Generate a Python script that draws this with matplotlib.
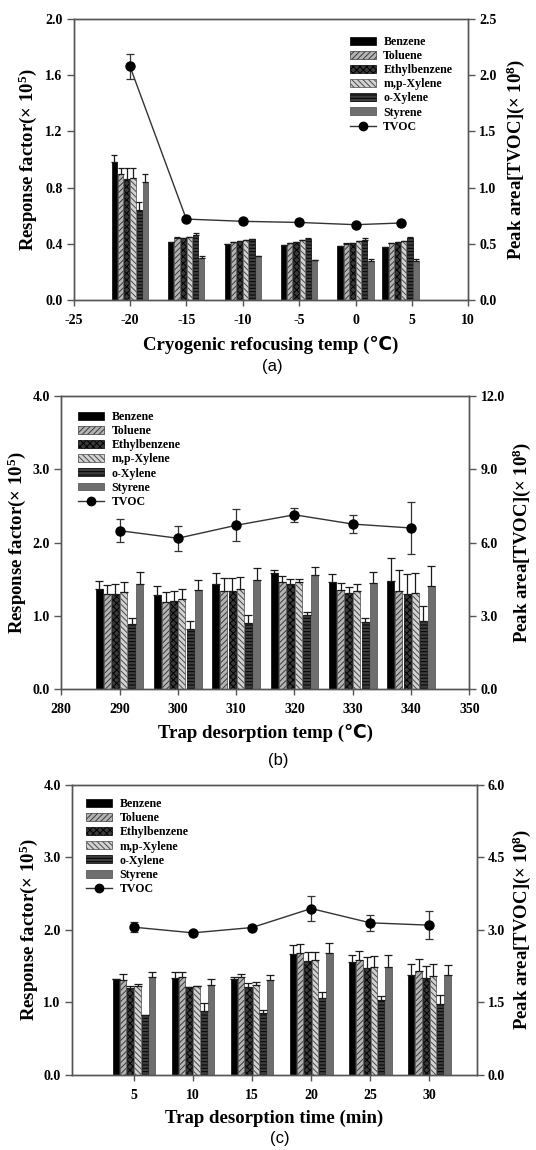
import matplotlib
matplotlib.use('Agg')
import matplotlib.pyplot as plt
import numpy as np
from matplotlib.lines import Line2D
from matplotlib.patches import Patch

plt.rcParams['font.family'] = ['Liberation Serif', 'DejaVu Sans']
plt.rcParams['font.weight'] = 'bold'
plt.rcParams['axes.labelweight'] = 'bold'
plt.rcParams['mathtext.fontset'] = 'custom'
plt.rcParams['mathtext.rm'] = 'Liberation Serif:bold'
plt.rcParams['mathtext.bf'] = 'Liberation Serif:bold'
plt.rcParams['mathtext.it'] = 'Liberation Serif:bold'
plt.rcParams['mathtext.default'] = 'bf'
plt.rcParams['hatch.linewidth'] = 0.7

compounds = ['Benzene', 'Toluene', 'Ethylbenzene', 'm,p-Xylene', 'o-Xylene', 'Styrene']

# ---- panel (a): cryogenic refocusing temperature ----
a_x = [-20, -15, -10, -5, 0, 4]
a_rf = [
    [0.980, 0.415, 0.399, 0.391, 0.382, 0.375],   # Benzene
    [0.897, 0.439, 0.415, 0.408, 0.399, 0.403],   # Toluene
    [0.861, 0.439, 0.420, 0.413, 0.408, 0.413],   # Ethylbenzene
    [0.868, 0.446, 0.429, 0.425, 0.420, 0.420],   # m,p-Xylene
    [0.643, 0.463, 0.434, 0.434, 0.429, 0.441],   # o-Xylene
    [0.840, 0.301, 0.311, 0.287, 0.280, 0.278],   # Styrene
]
a_rf_err = [
    [0.054, 0.000, 0.000, 0.000, 0.000, 0.000],
    [0.040, 0.007, 0.000, 0.000, 0.009, 0.000],
    [0.076, 0.000, 0.000, 0.000, 0.000, 0.000],
    [0.070, 0.000, 0.000, 0.000, 0.000, 0.000],
    [0.057, 0.016, 0.000, 0.009, 0.010, 0.009],
    [0.054, 0.014, 0.000, 0.000, 0.010, 0.012],
]
a_tvoc = [2.08, 0.72, 0.70, 0.69, 0.67, 0.685]
a_tvoc_err = [0.11, 0.0, 0.0, 0.0, 0.0, 0.0]

# ---- panel (b): trap desorption temperature ----
b_x = [290, 300, 310, 320, 330, 340]
b_rf = [
    [1.368, 1.291, 1.432, 1.591, 1.459, 1.477],
    [1.300, 1.195, 1.345, 1.468, 1.350, 1.336],
    [1.300, 1.200, 1.345, 1.441, 1.318, 1.300],
    [1.327, 1.232, 1.364, 1.464, 1.336, 1.314],
    [0.891, 0.827, 0.905, 1.018, 0.918, 0.927],
    [1.441, 1.350, 1.491, 1.555, 1.450, 1.405],
]
b_rf_err = [
    [0.109, 0.114, 0.159, 0.032, 0.114, 0.309],
    [0.127, 0.132, 0.178, 0.073, 0.095, 0.296],
    [0.136, 0.141, 0.178, 0.059, 0.082, 0.277],
    [0.141, 0.136, 0.172, 0.045, 0.096, 0.272],
    [0.077, 0.100, 0.113, 0.032, 0.050, 0.214],
    [0.159, 0.136, 0.168, 0.118, 0.150, 0.277],
]
b_tvoc = [6.49, 6.18, 6.71, 7.14, 6.76, 6.60]
b_tvoc_err = [0.48, 0.51, 0.66, 0.28, 0.38, 1.06]

# ---- panel (c): trap desorption time ----
c_x = [5, 10, 15, 20, 25, 30]
c_rf = [
    [1.318, 1.332, 1.323, 1.672, 1.561, 1.382],
    [1.305, 1.346, 1.355, 1.681, 1.585, 1.428],
    [1.195, 1.213, 1.208, 1.571, 1.470, 1.341],
    [1.222, 1.222, 1.236, 1.589, 1.484, 1.364],
    [0.822, 0.886, 0.859, 1.065, 1.029, 0.983],
    [1.346, 1.236, 1.309, 1.681, 1.484, 1.378],
]
c_rf_err = [
    [0.000, 0.092, 0.023, 0.114, 0.087, 0.152],
    [0.082, 0.073, 0.032, 0.129, 0.128, 0.166],
    [0.035, 0.000, 0.055, 0.119, 0.151, 0.161],
    [0.036, 0.000, 0.045, 0.110, 0.156, 0.161],
    [0.000, 0.106, 0.041, 0.074, 0.060, 0.123],
    [0.078, 0.082, 0.069, 0.133, 0.174, 0.133],
]
c_tvoc = [3.055, 2.938, 3.048, 3.44, 3.145, 3.097]
c_tvoc_err = [0.10, 0.0, 0.05, 0.25, 0.16, 0.29]

# ---- styles ----
face = ['#000000', '#b4b4b4', '#3a3a3a', '#d2d2d2', '#3e3e3e', '#6e6e6e']
edge = ['#000000', '#3a3a3a', '#000000', '#4a4a4a', '#000000', '#4a4a4a']
hatch = [None, '//////', 'xxxxx', '\\\\\\\\\\\\', '-----', None]
AX_COL = '#555555'

fig = plt.figure(figsize=(5.36, 11.5), dpi=100)


def style_axes(ax, ax2):
    for a in (ax, ax2):
        for s in a.spines.values():
            s.set_color(AX_COL)
            s.set_linewidth(1.0)
    ax.tick_params(axis='y', direction='out', length=5, width=1, color=AX_COL,
                   labelsize=10, pad=3)
    ax.tick_params(axis='x', direction='out', length=4, width=1, color=AX_COL,
                   labelsize=10, pad=6)
    ax2.tick_params(axis='y', direction='out', length=5, width=1, color=AX_COL,
                    labelsize=10, pad=3)


def panel(rect, x, rf, rf_err, tvoc, tvoc_err, slot, barw, xlim, xticks,
          yl, ylt, yr, yrt, cap_bar, cap_tv, leg_anchor, xlabel, ylab_x, yrab_x,
          xlab_y, tag, tag_xy, xfmt='%d'):
    ax = fig.add_axes(rect)
    x = np.asarray(x, float)
    n = len(compounds)
    handles = []
    for i, name in enumerate(compounds):
        pos = x + (i - (n - 1) / 2) * slot
        ax.bar(pos, rf[i], width=barw, color=face[i], edgecolor=edge[i],
               hatch=hatch[i], linewidth=0.5, zorder=2)
        ax.errorbar(pos, rf[i], yerr=[np.zeros(len(x)), rf_err[i]], fmt='none',
                    ecolor='#1a1a1a', elinewidth=0.9, capsize=cap_bar,
                    capthick=0.9, zorder=3)
        handles.append(Patch(facecolor=face[i], edgecolor=edge[i],
                             hatch=hatch[i], linewidth=0.5, label=name))
    ax.set_xlim(*xlim)
    ax.set_xticks(xticks)
    ax.set_ylim(*yl)
    ax.set_yticks(ylt)
    ax.yaxis.set_major_formatter(matplotlib.ticker.FormatStrFormatter('%.1f'))
    ax.xaxis.set_major_formatter(matplotlib.ticker.FormatStrFormatter(xfmt))

    ax2 = ax.twinx()
    ax2.errorbar(x, tvoc, yerr=tvoc_err, fmt='-o', color='#333333',
                 mfc='black', mec='black', ms=6.5, lw=1.0, ecolor='#333333',
                 elinewidth=0.9, capsize=cap_tv, capthick=0.9, zorder=4)
    ax2.set_ylim(*yr)
    ax2.set_yticks(yrt)
    ax2.yaxis.set_major_formatter(matplotlib.ticker.FormatStrFormatter('%.1f'))
    style_axes(ax, ax2)

    handles.append(Line2D([], [], color='#333333', lw=1.0, marker='o',
                          mfc='black', mec='black', ms=6, label='TVOC'))
    ax2.legend(handles=handles, loc='upper left', bbox_to_anchor=leg_anchor,
               frameon=False, prop={'size': 8.6, 'weight': 'bold'},
               handlelength=2.2, handleheight=0.65,
               labelspacing=0.18, handletextpad=0.6, borderpad=0,
               borderaxespad=0)

    ax.set_ylabel('Response factor(× 10$^{5}$)', fontsize=13.5, fontweight='bold')
    ax.yaxis.set_label_coords(ylab_x, 0.5)
    ax.yaxis.label.set_va('center')
    ax2.set_ylabel('Peak area[TVOC](× 10$^{8}$)', fontsize=13.5, fontweight='bold')
    ax2.yaxis.set_label_coords(yrab_x, 0.5)
    ax2.yaxis.label.set_va('center')
    ax.set_xlabel(xlabel, fontsize=13.5, fontweight='bold')
    ax.xaxis.set_label_coords(0.5, xlab_y)
    ax.xaxis.label.set_va('center')
    fig.text(tag_xy[0], tag_xy[1], tag, family='Liberation Sans',
             weight='normal', fontsize=12, ha='center', va='center')
    return ax, ax2


W, H = 536.0, 1150.0


def rect(l, r, t, b):
    return [l / W, 1 - b / H, (r - l) / W, (b - t) / H]


panel(rect(73.5, 468.3, 19, 300), a_x, a_rf, a_rf_err, a_tvoc, a_tvoc_err,
      0.55, 0.47, (-25, 10), np.arange(-25, 11, 5),
      (0, 2.0), np.arange(0, 2.01, 0.4), (0, 2.5), np.arange(0, 2.51, 0.5),
      2.2, 3.0, (0.70, 0.94), 'Cryogenic refocusing temp (℃)',
      -0.115, 1.12, -0.16, '(a)', (272 / W, 1 - 367 / H))

panel(rect(61.2, 469.4, 396, 689.3), b_x, b_rf, b_rf_err, b_tvoc, b_tvoc_err,
      1.4, 1.2, (280, 350), np.arange(280, 351, 10),
      (0, 4.0), np.arange(0, 4.01, 1.0), (0, 12.0), np.arange(0, 12.01, 3.0),
      3.2, 3.0, (0.041, 0.949), 'Trap desorption temp (℃)',
      -0.108, 1.128, -0.149, '(b)', (278 / W, 1 - 760 / H))

panel(rect(71.8, 476.7, 784.7, 1075), c_x, c_rf, c_rf_err, c_tvoc, c_tvoc_err,
      0.615, 0.53, (-0.25, 34), np.arange(5, 31, 5),
      (0, 4.0), np.arange(0, 4.01, 1.0), (0, 6.0), np.arange(0, 6.01, 1.5),
      2.6, 3.0, (0.035, 0.954), 'Trap desorption time (min)',
      -0.106, 1.112, -0.148, '(c)', (280 / W, 1 - 1138 / H))

fig.savefig('out.png', dpi=100)
